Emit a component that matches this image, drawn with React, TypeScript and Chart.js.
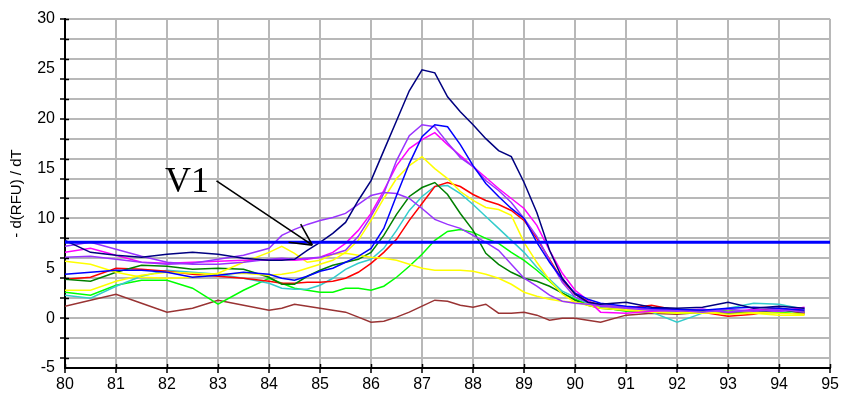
import React, { useEffect, useRef } from "react";
import { Chart, registerables } from "chart.js";

Chart.register(...registerables);

const temps = [
  80, 80.5, 81, 81.5, 82, 82.5, 83, 83.5, 84, 84.25, 84.5, 84.75, 85, 85.25, 85.5, 85.75,
  86, 86.25, 86.5, 86.75, 87, 87.25, 87.5, 87.75, 88, 88.25, 88.5, 88.75, 89, 89.25, 89.5,
  89.75, 90, 90.25, 90.5, 91, 91.5, 92, 92.5, 93, 93.5, 94, 94.5,
];

const navy = [7.8, 6.6, 6.3, 6.1, 6.4, 6.6, 6.4, 6.0, 5.8, 5.8, 5.9, 6.8, 7.6, 8.5, 9.6, 11.8, 13.8, 16.8, 19.8, 22.8, 24.9, 24.6, 22.2, 20.7, 19.4, 18.0, 16.8, 16.2, 13.6, 10.6, 6.8, 4.0, 2.4, 1.6, 1.4, 1.6, 1.1, 1.0, 1.1, 1.6, 1.0, 1.2, 1.0];
const blue = [4.4, 4.6, 4.8, 4.8, 4.6, 4.1, 4.3, 4.6, 4.4, 4.0, 3.8, 4.2, 4.7, 5.0, 5.6, 6.2, 7.0, 9.0, 12.3, 15.5, 18.2, 19.4, 19.2, 17.4, 15.3, 13.5, 12.2, 11.0, 10.0, 7.6, 5.6, 3.9, 2.5, 1.9, 1.5, 1.2, 1.0, 0.9, 0.8, 1.0, 1.1, 1.0, 0.8];
const purpleA = [7.2, 7.6, 6.9, 6.2, 5.6, 5.4, 5.4, 5.6, 5.9, 6.0, 5.9, 6.0, 6.1, 6.4, 6.8, 8.2, 10.2, 12.5, 15.8, 18.3, 19.4, 19.2, 17.6, 16.1, 15.2, 13.8, 12.8, 11.6, 10.0, 8.2, 5.8, 3.6, 2.1, 1.6, 1.2, 1.0, 0.8, 0.7, 0.9, 0.6, 0.8, 0.7, 0.9];
const purpleB = [6.1, 6.2, 5.9, 5.6, 5.4, 5.5, 5.9, 6.3, 7.0, 8.3, 8.9, 9.4, 9.8, 10.1, 10.5, 11.4, 12.3, 12.6, 12.5, 12.0, 11.0, 9.9, 9.4, 9.0, 8.3, 7.6, 6.8, 5.4, 4.0, 3.2, 2.3, 1.7, 1.5, 1.4, 1.3, 1.1, 0.9, 0.8, 0.6, 0.9, 0.7, 0.9, 0.6];
const magenta = [6.6, 7.0, 6.3, 5.6, 5.5, 5.6, 5.7, 5.8, 5.8, 5.9, 5.8, 5.9, 6.1, 6.6, 7.5, 8.8, 10.5, 12.8, 15.3, 17.0, 17.9, 18.6, 17.4, 16.3, 15.2, 14.1, 13.0, 12.0, 11.0, 9.3, 6.8, 4.5, 2.8, 1.8, 0.6, 0.5, 0.7, 0.8, 0.9, 0.6, 0.9, 0.7, 1.1];
const yellowA = [2.8, 2.8, 3.7, 4.3, 4.6, 4.5, 4.4, 4.5, 4.3, 4.4, 4.6, 5.0, 5.4, 5.8, 6.6, 7.8, 9.8, 12.0, 14.0, 15.3, 16.2, 15.0, 14.0, 12.7, 11.8, 11.1, 10.9, 10.3, 7.6, 5.6, 3.8, 2.4, 1.6, 1.3, 1.0, 0.8, 0.6, 0.5, 0.6, 0.4, 0.5, 0.3, 0.3];
const yellowB = [5.7, 5.4, 4.6, 4.1, 4.0, 4.1, 4.5, 5.6, 6.6, 7.2, 6.5, 5.6, 5.8, 6.4, 6.5, 6.3, 6.1, 6.0, 5.8, 5.4, 5.0, 4.8, 4.8, 4.8, 4.7, 4.4, 4.0, 3.4, 2.6, 2.2, 1.9, 1.7, 1.6, 1.4, 1.2, 0.9, 0.7, 0.6, 0.5, 0.7, 0.6, 0.5, 0.4];
const darkGreen = [3.9, 3.7, 4.6, 5.3, 5.2, 4.9, 5.0, 4.9, 4.1, 3.4, 3.4, 4.2, 4.8, 5.3, 5.6, 5.9, 6.6, 8.3, 10.4, 12.2, 13.1, 13.6, 12.4, 10.5, 8.8, 6.5, 5.4, 4.6, 4.0, 3.7, 3.2, 2.5, 1.8, 1.3, 1.0, 0.8, 0.6, 0.8, 0.7, 0.5, 0.6, 0.8, 0.6];
const red = [3.9, 4.1, 5.0, 4.9, 4.7, 4.4, 4.2, 4.0, 3.7, 3.5, 3.5, 3.6, 3.6, 3.7, 4.0, 4.6, 5.5, 6.6, 7.9, 9.8, 11.5, 13.2, 13.6, 13.2, 12.4, 11.8, 11.4, 10.8, 9.8, 8.0, 5.9, 3.8, 2.4, 1.7, 1.3, 1.0, 1.3, 0.8, 0.6, 0.2, 0.4, 0.9, 0.5];
const cyan = [2.3, 2.0, 3.2, 4.2, 4.8, 4.6, 4.4, 4.0, 3.5, 3.0, 2.9, 2.9, 3.3, 4.0, 4.9, 5.5, 5.9, 7.0, 8.8, 10.8, 12.2, 13.2, 13.3, 12.5, 11.4, 10.2, 9.0, 7.8, 6.6, 5.1, 3.9, 2.7, 2.1, 1.5, 1.1, 0.8, 0.6, -0.4, 0.5, 1.0, 1.5, 1.4, 0.9];
const lime = [2.6, 2.3, 3.3, 3.8, 3.8, 3.0, 1.4, 2.8, 4.0, 3.5, 3.0, 2.8, 2.6, 2.6, 3.0, 3.0, 2.8, 3.2, 4.1, 5.2, 6.4, 7.8, 8.7, 8.9, 8.6, 8.0, 7.5, 6.6, 5.8, 4.8, 3.7, 2.5, 1.9, 1.4, 1.1, 0.7, 0.8, 0.5, 0.6, 0.8, 0.5, 0.6, 0.4];
const brown = [1.2, 1.8, 2.4, 1.5, 0.6, 1.0, 1.8, 1.3, 0.8, 1.0, 1.4, 1.2, 1.0, 0.8, 0.6, 0.1, -0.4, -0.3, 0.1, 0.6, 1.2, 1.8, 1.7, 1.3, 1.1, 1.4, 0.5, 0.5, 0.6, 0.3, -0.2, 0.0, 0.0, -0.2, -0.4, 0.3, 0.5, 0.4, 0.6, 0.5, 0.8, 1.0, 0.7];

const seriesList: [number[], string][] = [
  [navy, "#000080"],
  [blue, "#0000ff"],
  [purpleA, "#9933ff"],
  [purpleB, "#9933ff"],
  [magenta, "#ff00ff"],
  [yellowA, "#ffff00"],
  [yellowB, "#ffff00"],
  [darkGreen, "#008000"],
  [red, "#ff0000"],
  [cyan, "#33cccc"],
  [lime, "#00ff00"],
  [brown, "#993333"],
];

const threshold = 7.6;
const xRange = [80, 95];
const yRange = [-5, 30];
const yTitle = "- d(RFU) / dT";
const annotationText = "V1";
const annotationTextPos = { x: 81.96, y: 12.64 };
const arrowStart = { x: 82.97, y: 13.77 };
const arrowTip = { x: 84.85, y: 7.32 };

const annotationPlugin = {
  id: "v1annotation",
  afterDatasetsDraw(chart: any) {
    const { ctx, scales } = chart;
    const xs = scales.x;
    const ys = scales.y;
    const sx = xs.getPixelForValue(arrowStart.x);
    const sy = ys.getPixelForValue(arrowStart.y);
    const tx = xs.getPixelForValue(arrowTip.x);
    const ty = ys.getPixelForValue(arrowTip.y);
    ctx.save();
    ctx.strokeStyle = "#000";
    ctx.lineWidth = 1.6;
    ctx.beginPath();
    ctx.moveTo(sx, sy);
    ctx.lineTo(tx, ty);
    const ang = Math.atan2(ty - sy, tx - sx);
    const len = 24;
    const spread = (27 * Math.PI) / 180;
    ctx.moveTo(tx, ty);
    ctx.lineTo(tx - len * Math.cos(ang - spread), ty - len * Math.sin(ang - spread));
    ctx.moveTo(tx, ty);
    ctx.lineTo(tx - len * Math.cos(ang + spread), ty - len * Math.sin(ang + spread));
    ctx.stroke();
    // tick marks crossing into the plot on the y axis (inner half)
    ctx.lineWidth = 1.5;
    ctx.beginPath();
    for (let v = yRange[0] + 1; v <= yRange[1]; v++) {
      if (v % 2 !== 0) continue;
      const py = Math.round(ys.getPixelForValue(v)) + 0.5;
      ctx.moveTo(xs.left, py);
      ctx.lineTo(xs.left + 4, py);
    }
    for (let v = xRange[0]; v <= xRange[1]; v++) {
      const px = Math.round(xs.getPixelForValue(v)) + 0.5;
      ctx.moveTo(px, ys.bottom);
      ctx.lineTo(px, ys.bottom - 4);
    }
    ctx.stroke();
    ctx.fillStyle = "#000";
    ctx.font = '36px "Liberation Serif", serif';
    ctx.textAlign = "left";
    ctx.textBaseline = "alphabetic";
    ctx.fillText(
      annotationText,
      xs.getPixelForValue(annotationTextPos.x),
      ys.getPixelForValue(annotationTextPos.y)
    );
    ctx.restore();
  },
};

export default function App() {
  const ref = useRef<HTMLCanvasElement | null>(null);
  useEffect(() => {
    if (!ref.current) return;
    const datasets: any[] = [
      {
        data: [
          { x: xRange[0], y: threshold },
          { x: xRange[1], y: threshold },
        ],
        borderColor: "#0000ff",
        borderWidth: 3,
        pointRadius: 0,
        order: 0,
      },
      ...seriesList.map(([vals, color], i) => ({
        data: temps.map((t, j) => ({ x: t, y: vals[j] })),
        borderColor: color,
        borderWidth: 1.5,
        pointRadius: 0,
        tension: 0,
        order: i + 1,
      })),
    ];
    const chart = new Chart(ref.current, {
      type: "line",
      data: { datasets },
      options: {
        animation: false,
        responsive: false,
        events: [],
        layout: { padding: { left: 0, top: 19, right: 9, bottom: 0 } },
        plugins: { legend: { display: false }, tooltip: { enabled: false } },
        scales: {
          x: {
            type: "linear",
            min: xRange[0],
            max: xRange[1],
            afterFit: (s: any) => {
              s.height = 31;
            },
            ticks: {
              stepSize: 1,
              color: "#000",
              font: { family: "Liberation Sans", size: 16 },
              padding: 2,
              maxRotation: 0,
            },
            grid: {
              color: "#b8b8b8",
              lineWidth: 2,
              tickColor: "#000",
              tickLength: 5,
              tickWidth: 1.5,
            },
            border: { display: true, color: "#000", width: 2 },
          },
          y: {
            type: "linear",
            min: yRange[0],
            max: yRange[1],
            afterFit: (s: any) => {
              s.width = 65;
            },
            ticks: {
              stepSize: 1,
              autoSkip: false,
              color: "#000",
              font: { family: "Liberation Sans", size: 16 },
              padding: 5,
              callback: (v: any) => (Number(v) % 5 === 0 ? String(v) : ""),
            },
            grid: {
              color: (c: any) =>
                c.tick && Math.round(c.tick.value) % 2 === 0 && c.tick.value > yRange[0]
                  ? "#b8b8b8"
                  : "rgba(0,0,0,0)",
              lineWidth: 2,
              tickColor: (c: any) =>
                c.tick && Math.round(c.tick.value) % 2 === 0 ? "#000" : "rgba(0,0,0,0)",
              tickLength: 5,
              tickWidth: 1.5,
            },
            border: { display: true, color: "#000", width: 2 },
            title: {
              display: true,
              text: yTitle,
              color: "#000",
              font: { family: "Liberation Sans", size: 15 },
              padding: { top: 8, bottom: 0 },
            },
          },
        },
      },
      plugins: [annotationPlugin],
    } as any);
    return () => chart.destroy();
  }, []);
  return (
    <div style={{ position: "absolute", left: 0, top: 0, width: 841, height: 399, background: "#fff" }}>
      <canvas ref={ref} width={841} height={399} style={{ display: "block" }} />
    </div>
  );
}
